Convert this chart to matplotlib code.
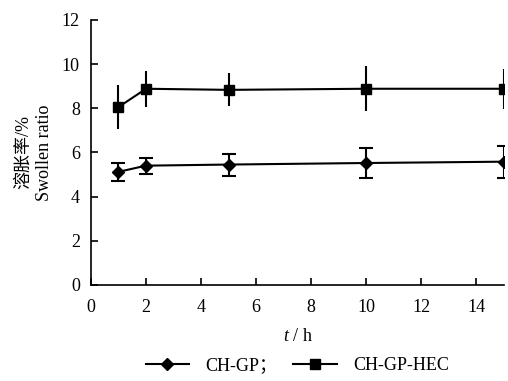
import numpy as np
import matplotlib
matplotlib.use("Agg")
import matplotlib.pyplot as plt
from matplotlib.lines import Line2D

plt.rcParams['font.family'] = ['Liberation Serif', 'Noto Sans CJK SC']
plt.rcParams['mathtext.fontset'] = 'custom'
plt.rcParams['mathtext.it'] = 'Liberation Serif:italic'

# data
t = [1, 2, 5, 10, 15]
gp = [5.12, 5.4, 5.45, 5.52, 5.58]
gp_err = [0.4, 0.36, 0.5, 0.7, 0.72]
hec = [8.05, 8.88, 8.83, 8.88, 8.88]
hec_err = [0.98, 0.82, 0.75, 1.02, 0.9]
labels = ['CH-GP；', 'CH-GP-HEC']

fig = plt.figure(figsize=(5.08, 3.81), dpi=100)
ax = fig.add_axes([0.179, 0.252, 0.813, 0.696])

ax.errorbar(t, gp, yerr=gp_err, color='k', marker='D', markersize=6,
            lw=1.5, elinewidth=1.5, capsize=5, capthick=1.5)
ax.errorbar(t, hec, yerr=hec_err, color='k', marker='s', markersize=7,
            lw=1.5, elinewidth=1.5, capsize=0)

ax.set_xlim(0, 15)
ax.set_ylim(0, 12)
ax.set_xticks(np.arange(0, 15, 2))
ax.set_yticks(np.arange(0, 13, 2))
ax.tick_params(direction='in', length=5, width=1.2, labelsize=13)
ax.tick_params(axis='x', pad=10)
ax.tick_params(axis='y', pad=8)
ax.spines['top'].set_visible(False)
ax.spines['right'].set_visible(False)
for s in ['left', 'bottom']:
    ax.spines[s].set_linewidth(1.2)

ax.set_xlabel(r'$t$ / h', fontsize=13, labelpad=9)
ax.set_ylabel('溶胀率/%\nSwollen ratio', fontsize=13, labelpad=6,
              linespacing=1.35)

handles = [Line2D([], [], color='k', lw=1.5, marker='D', markersize=6),
           Line2D([], [], color='k', lw=1.5, marker='s', markersize=7)]
fig.legend(handles, labels, loc='center', bbox_to_anchor=(0.585, 0.04),
           ncol=2, frameon=False, fontsize=13, handlelength=2.4,
           columnspacing=0.9, handletextpad=0.9)

fig.savefig('out.png', dpi=100)
